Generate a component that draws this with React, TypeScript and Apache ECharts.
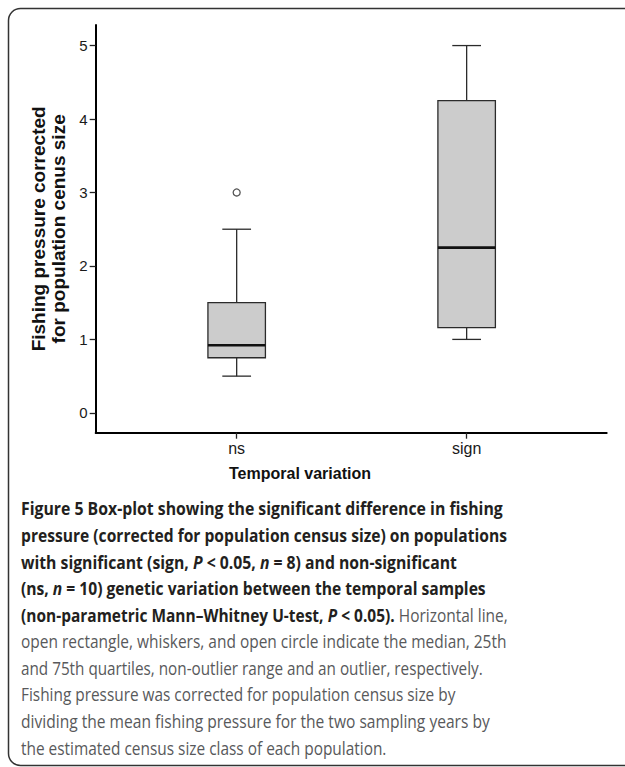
import React, { useEffect, useRef } from 'react';
import * as echarts from 'echarts';

// ---------- data ----------
const categories = ['ns', 'sign'];
const categoryPositions = [1, 2];
// [lower whisker, Q1, median, Q3, upper whisker]
const boxNs = [0.5, 0.75, 0.92, 1.5, 2.5];
const boxSign = [1.0, 1.16, 2.25, 4.25, 5.0];
const boxStats = [boxNs, boxSign];
const outlierPoints = [[1, 3.0]];
const yTicks = [0, 1, 2, 3, 4, 5];
const yAxisTitle = 'Fishing pressure corrected\nfor population cenus size';
const xAxisTitle = 'Temporal variation';

type Seg = [string, string];
const captionLines: Seg[][] = [
  [['b', 'Figure 5 Box-plot showing the significant difference in fishing']],
  [['b', 'pressure (corrected for population census size) on populations']],
  [['b', 'with significant (sign, '], ['bi', 'P'], ['b', ' < 0.05, '], ['bi', 'n'], ['b', ' = 8) and non-significant']],
  [['b', '(ns, '], ['bi', 'n'], ['b', ' = 10) genetic variation between the temporal samples']],
  [['b', '(non-parametric Mann\u2013Whitney U-test, '], ['bi', 'P'], ['b', ' < 0.05).'], ['r', ' Horizontal line,']],
  [['r', 'open rectangle, whiskers, and open circle indicate the median, 25th']],
  [['r', 'and 75th quartiles, non-outlier range and an outlier, respectively.']],
  [['r', 'Fishing pressure was corrected for population census size by']],
  [['r', 'dividing the mean fishing pressure for the two sampling years by']],
  [['r', 'the estimated census size class of each population.']],
];

// ---------- layout ----------
const CAP_LEFT = 21;
const CAP_TOP = 508.5;
const CAP_STEP = 26.55;
const CAP_FS = 18.5;
const captionRightEdges = [503, 507, 457, 486, 508, 507, 483, 456, 490, 387];
const CAP_FONT = '"Open Sans", "Noto Sans", sans-serif';
const AX_FONT = '"Liberation Sans", Arial, sans-serif';

function segFont(st: string) {
  return `${st === 'bi' ? 'italic ' : ''}${st !== 'r' ? 'bold ' : ''}${CAP_FS}px "Open Sans"`;
}

function measureLine(segs: Seg[]): number {
  try {
    const ctx = document.createElement('canvas').getContext('2d');
    if (!ctx) return 0;
    let w = 0;
    for (const [st, t] of segs) {
      ctx.font = segFont(st);
      w += ctx.measureText(t).width;
    }
    return w;
  } catch (e) {
    return 0;
  }
}

export default function App() {
  const ref = useRef<HTMLDivElement>(null);

  useEffect(() => {
    if (!ref.current) return;
    const chart = echarts.init(ref.current, null, { renderer: 'svg' });

    const rich = {
      b: { fontFamily: CAP_FONT, fontWeight: 'bold', fontSize: CAP_FS, fill: '#231f20' },
      bi: { fontFamily: CAP_FONT, fontWeight: 'bold', fontStyle: 'italic', fontSize: CAP_FS, fill: '#231f20' },
      r: { fontFamily: CAP_FONT, fontWeight: 'normal', fontSize: CAP_FS, fill: '#58595b' },
    };

    const captionElems = captionLines.map((segs, i) => {
      const w = measureLine(segs);
      const target = captionRightEdges[i] - CAP_LEFT;
      const s = w > 0 ? target / w : 0.86;
      return {
        type: 'text',
        x: CAP_LEFT,
        y: CAP_TOP + i * CAP_STEP,
        scaleX: s,
        originX: 0,
        originY: 0,
        style: {
          text: segs.map(([st, t]) => `{${st}|${t}}`).join(''),
          rich,
          align: 'left',
          verticalAlign: 'middle',
          fontFamily: CAP_FONT,
          fontSize: CAP_FS,
        },
      };
    });

    const option: any = {
      animation: false,
      backgroundColor: '#ffffff',
      grid: {
        left: 95.7,
        right: 18.3,
        top: 25,
        bottom: 334.3,
        containLabel: false,
        outerBoundsMode: 'none',
      },
      xAxis: {
        type: 'value',
        min: 0.387,
        max: 2.609,
        splitLine: { show: false },
        axisLine: { show: true, onZero: false, lineStyle: { color: '#000', width: 2 } },
        axisTick: {
          show: true,
          customValues: categoryPositions,
          length: 6,
          lineStyle: { color: '#222', width: 1.3 },
        },
        axisLabel: {
          show: true,
          customValues: categoryPositions,
          formatter: (v: number) => categories[categoryPositions.indexOf(v)] ?? '',
          fontFamily: AX_FONT,
          fontSize: 16,
          color: '#1a1a1a',
          margin: 7.5,
        },
      },
      yAxis: {
        type: 'value',
        min: -0.27,
        max: 5.28,
        name: yAxisTitle,
        nameLocation: 'middle',
        nameGap: 20,
        nameRotate: 90,
        nameTextStyle: {
          fontFamily: AX_FONT,
          fontWeight: 'bold',
          fontSize: 19,
          lineHeight: 20,
          color: '#111',
          align: 'center',
        },
        splitLine: { show: false },
        axisLine: { show: true, onZero: false, lineStyle: { color: '#000', width: 2 } },
        axisTick: {
          show: true,
          customValues: yTicks,
          length: 6,
          lineStyle: { color: '#222', width: 1.3 },
        },
        axisLabel: {
          show: true,
          customValues: yTicks,
          fontFamily: AX_FONT,
          fontSize: 15,
          color: '#1a1a1a',
          margin: 8,
        },
      },
      series: [
        {
          type: 'custom',
          coordinateSystem: 'cartesian2d',
          clip: false,
          data: boxStats.map((b, i) => [categoryPositions[i], ...b]),
          encode: { x: 0, y: [1, 2, 3, 4, 5] },
          renderItem: (params: any, api: any) => {
            const x = api.value(0);
            const lo = api.coord([x, api.value(1)]);
            const q1 = api.coord([x, api.value(2)]);
            const md = api.coord([x, api.value(3)]);
            const q3 = api.coord([x, api.value(4)]);
            const hi = api.coord([x, api.value(5)]);
            const half = api.size([0.125, 0])[0];
            const cap = half / 2;
            const cx = lo[0];
            const ls = { stroke: '#2b2b2b', lineWidth: 1.3 };
            return {
              type: 'group',
              children: [
                { type: 'line', shape: { x1: cx, y1: hi[1], x2: cx, y2: q3[1] }, style: ls },
                { type: 'line', shape: { x1: cx, y1: q1[1], x2: cx, y2: lo[1] }, style: ls },
                { type: 'line', shape: { x1: cx - cap, y1: hi[1], x2: cx + cap, y2: hi[1] }, style: ls },
                { type: 'line', shape: { x1: cx - cap, y1: lo[1], x2: cx + cap, y2: lo[1] }, style: ls },
                {
                  type: 'rect',
                  shape: { x: cx - half, y: q3[1], width: half * 2, height: q1[1] - q3[1] },
                  style: { fill: '#cccccc', stroke: '#2b2b2b', lineWidth: 1.3 },
                },
                {
                  type: 'line',
                  shape: { x1: cx - half, y1: md[1], x2: cx + half, y2: md[1] },
                  style: { stroke: '#111', lineWidth: 2.6 },
                },
              ],
            };
          },
        },
        {
          type: 'scatter',
          data: outlierPoints,
          symbol: 'circle',
          symbolSize: 7,
          itemStyle: { color: '#ffffff', borderColor: '#2b2b2b', borderWidth: 1.3 },
          z: 5,
        },
      ],
      graphic: [
        {
          type: 'rect',
          shape: { x: 8.5, y: 8.5, width: 700, height: 757, r: 12 },
          style: { fill: 'none', stroke: '#333', lineWidth: 1.5 },
          silent: true,
        },
        {
          type: 'text',
          x: 300,
          y: 473,
          style: {
            text: xAxisTitle,
            align: 'center',
            verticalAlign: 'middle',
            fontFamily: AX_FONT,
            fontWeight: 'bold',
            fontSize: 16,
            fill: '#111',
          },
        },
        ...captionElems,
      ],
    };

    chart.setOption(option);
    return () => chart.dispose();
  }, []);

  return (
    <div
      ref={ref}
      style={{ position: 'absolute', left: 0, top: 0, width: 625, height: 767, background: '#fff' }}
    />
  );
}
